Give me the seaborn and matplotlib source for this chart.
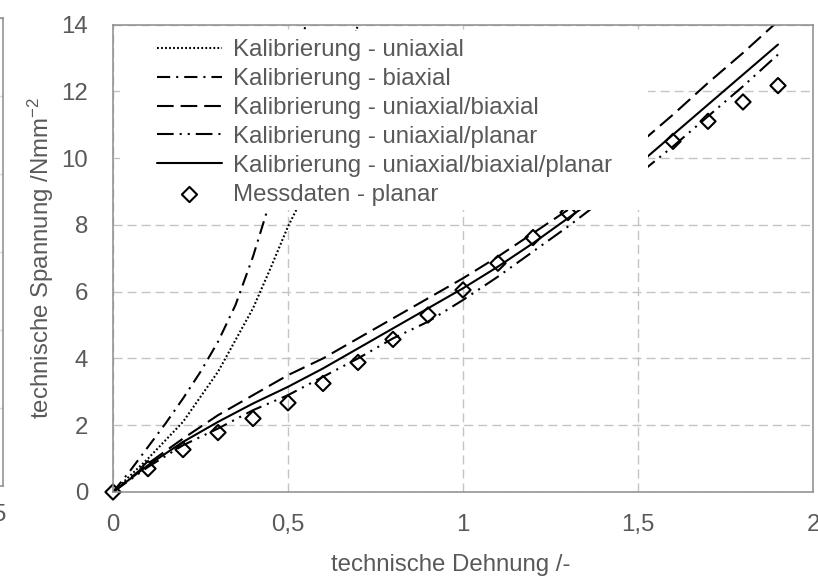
import numpy as np
import pandas as pd
import matplotlib
matplotlib.use("Agg")
import matplotlib.pyplot as plt
import seaborn as sns
from matplotlib.patches import Rectangle

# ---------------- data ----------------
x_cal = [0.0, 0.1, 0.2, 0.3, 0.4, 0.5, 0.6, 0.7, 0.8, 0.9, 1.0,
         1.1, 1.2, 1.3, 1.4, 1.5, 1.6, 1.7, 1.8, 1.9]
y_uni_biax = [0.0, 0.85, 1.6, 2.3, 2.9, 3.5, 4.0, 4.6, 5.2, 5.8, 6.4,
              7.05, 7.75, 8.45, 9.3, 10.4, 11.3, 12.25, 13.15, 14.1]
y_uni_planar = [0.0, 0.75, 1.4, 1.9, 2.45, 2.9, 3.45, 4.0, 4.6, 5.1, 5.75,
                6.45, 7.2, 7.95, 8.75, 9.5, 10.35, 11.25, 12.15, 13.1]
y_uni_biax_planar = [0.0, 0.8, 1.5, 2.1, 2.65, 3.15, 3.7, 4.3, 4.9, 5.5, 6.1,
                     6.75, 7.45, 8.2, 8.95, 9.8, 10.7, 11.6, 12.5, 13.4]

x_uni = [0.0, 0.1, 0.2, 0.3, 0.4, 0.45, 0.5, 0.55, 0.6, 0.65, 0.7]
y_uni = [0.0, 1.0, 2.1, 3.6, 5.5, 6.7, 7.95, 9.0, 10.5, 12.1, 14.0]

x_biax = [0.0, 0.05, 0.1, 0.15, 0.2, 0.25, 0.3, 0.35, 0.4, 0.45, 0.5, 0.55]
y_biax = [0.0, 0.65, 1.35, 2.05, 2.8, 3.6, 4.5, 5.6, 7.05, 8.75, 11.0, 14.0]

x_meas = [0.0, 0.1, 0.2, 0.3, 0.4, 0.5, 0.6, 0.7, 0.8, 0.9, 1.0,
          1.1, 1.2, 1.3, 1.4, 1.5, 1.6, 1.7, 1.8, 1.9]
y_meas = [0.0, 0.7, 1.27, 1.78, 2.2, 2.67, 3.25, 3.88, 4.57, 5.3, 6.05,
          6.85, 7.62, 8.37, 9.1, 9.8, 10.5, 11.1, 11.68, 12.17]

labels = ["Kalibrierung - uniaxial",
          "Kalibrierung - biaxial",
          "Kalibrierung - uniaxial/biaxial",
          "Kalibrierung - uniaxial/planar",
          "Kalibrierung - uniaxial/biaxial/planar",
          "Messdaten - planar"]

x_ticks = [0.0, 0.5, 1.0, 1.5, 2.0]
x_tick_labels = ["0", "0,5", "1", "1,5", "2"]
y_ticks = [0, 2, 4, 6, 8, 10, 12, 14]
y_tick_labels = ["0", "2", "4", "6", "8", "10", "12", "14"]

x_label = "technische Dehnung /-"
y_label = r"technische Spannung /Nmm$^{\mathrm{-2}}$"

# neighbouring (cropped) chart on the left edge
left_x_ticks = [2.5]
left_x_tick_labels = ["2,5"]
left_y_ticks = [0, 1, 2, 3, 4, 5, 6]

# ---------------- style ----------------
sns.set_theme(style="white")
plt.rcParams['font.family'] = ['Liberation Sans', 'DejaVu Sans']
plt.rcParams['mathtext.fontset'] = 'custom'
plt.rcParams['mathtext.rm'] = 'Liberation Sans'
plt.rcParams['mathtext.it'] = 'Liberation Sans:italic'
plt.rcParams['mathtext.bf'] = 'Liberation Sans:bold'
plt.rcParams['lines.scale_dashes'] = False

TXT = '#595959'
FRAME = '#8c8c8c'
FS = 17.3

fig = plt.figure(figsize=(8.18, 5.77), dpi=100)

# --- partial neighbour chart ---
axL = fig.add_axes([-650 / 818, 91 / 577, 653.3 / 818, 468 / 577])
axL.set_xlim(0, 2.55)
axL.set_ylim(0, 6)
axL.set_xticks(left_x_ticks)
axL.set_xticklabels(left_x_tick_labels)
axL.set_yticks(left_y_ticks)
axL.set_yticklabels([])
axL.grid(True, axis='y', color='#d9d9d9', linewidth=1.0)
axL.tick_params(length=0, labelsize=FS, labelcolor=TXT, pad=13)
for s in axL.spines.values():
    s.set_color(FRAME)
    s.set_linewidth(1.1)

# --- main chart ---
ax = fig.add_axes([113 / 818, 85 / 577, 700 / 818, 467.5 / 577])
LW = 1.5
sns.lineplot(x=x_uni, y=y_uni, ax=ax, color='black', linewidth=LW,
             linestyle=(0, (1.3, 1.6)), label=labels[0], zorder=2)
sns.lineplot(x=x_biax, y=y_biax, ax=ax, color='black', linewidth=LW,
             linestyle=(0, (9.5, 4.3, 1.5, 4.3)), label=labels[1], zorder=2)
sns.lineplot(x=x_cal, y=y_uni_biax, ax=ax, color='black', linewidth=LW,
             linestyle=(0, (12, 5)), label=labels[2], zorder=2)
sns.lineplot(x=x_cal, y=y_uni_planar, ax=ax, color='black', linewidth=LW,
             linestyle=(0, (12, 4.3, 1.5, 4.3, 1.5, 4.3)), label=labels[3], zorder=2)
sns.lineplot(x=x_cal, y=y_uni_biax_planar, ax=ax, color='black', linewidth=LW,
             linestyle='-', label=labels[4], zorder=2)
sns.scatterplot(x=x_meas, y=y_meas, ax=ax, marker='D', s=60,
                label=labels[5], zorder=2.5, clip_on=False)
pts = ax.collections[-1]
pts.set_facecolor('none')
pts.set_edgecolor('black')
pts.set_linewidth(1.5)

ax.set_xlim(0, 2)
ax.set_ylim(0, 14)
ax.set_xticks(x_ticks)
ax.set_xticklabels(x_tick_labels)
ax.set_yticks(y_ticks)
ax.set_yticklabels(y_tick_labels)
ax.tick_params(axis='x', length=0, labelsize=FS, labelcolor=TXT, pad=16)
ax.tick_params(axis='y', length=0, labelsize=FS, labelcolor=TXT, pad=18)
ax.grid(True, linestyle=(0, (6.5, 3.6)), color='#c4c4c4', linewidth=1.0)
ax.set_axisbelow(True)
for s in ax.spines.values():
    s.set_color(FRAME)
    s.set_linewidth(1.1)

ax.set_xlabel(x_label, fontsize=FS, color=TXT, labelpad=13)
ax.xaxis.label.set_x(0.483)
ax.set_ylabel(y_label, fontsize=FS, color=TXT, labelpad=4)

# white legend area (covers the plot like the original legend box)
ax.add_patch(Rectangle((0.01, 0.6026), 0.754, 0.3844, transform=ax.transAxes,
                       facecolor='white', edgecolor='none', zorder=3))

handles, lbls = ax.get_legend_handles_labels()
leg = ax.legend(handles, lbls, loc='upper left', bbox_to_anchor=(0.0629, 0.969),
                frameon=False, fontsize=FS, handlelength=2.7, handletextpad=0.46,
                labelspacing=0.29, borderpad=0, borderaxespad=0, labelcolor=TXT)
leg.set_zorder(5)

fig.savefig("out.png", dpi=100)
